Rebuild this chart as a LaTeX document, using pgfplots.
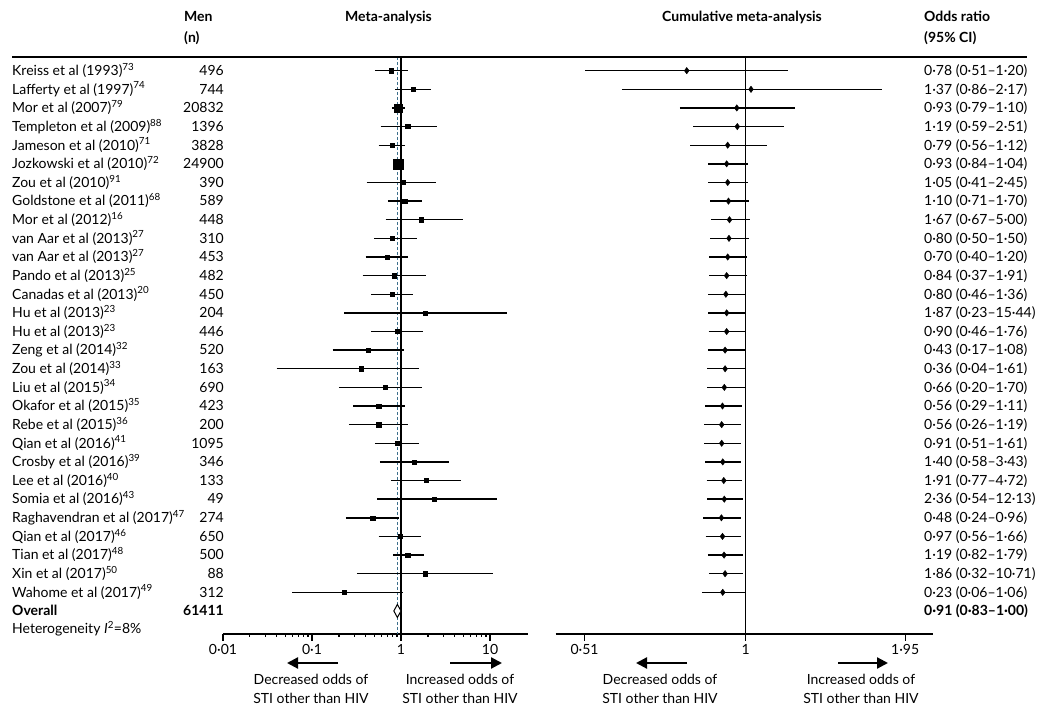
\documentclass[border=0pt]{standalone}
\usepackage{fontspec}
\setmainfont{Lato}
\usepackage{pgfplots}
\pgfplotsset{compat=1.18}
\usepackage{pgfplotstable}
\usetikzlibrary{arrows.meta}
\definecolor{refblue}{HTML}{3D6F8C}

% individual studies: row, odds ratio, CI
\pgfplotstableread{
row or lo hi
1 0.78 0.51 1.20
2 1.37 0.86 2.17
4 1.19 0.59 2.51
5 0.79 0.56 1.12
7 1.05 0.41 2.45
8 1.10 0.71 1.70
9 1.67 0.67 5.00
10 0.80 0.50 1.50
11 0.70 0.40 1.20
12 0.84 0.37 1.91
13 0.80 0.46 1.36
14 1.87 0.23 15.44
15 0.90 0.46 1.76
16 0.43 0.17 1.08
17 0.36 0.04 1.61
18 0.66 0.20 1.70
19 0.56 0.29 1.11
20 0.56 0.26 1.19
21 0.91 0.51 1.61
22 1.40 0.58 3.43
23 1.91 0.77 4.72
24 2.36 0.54 12.13
25 0.48 0.24 0.96
26 0.97 0.56 1.66
27 1.19 0.82 1.79
28 1.86 0.32 10.71
29 0.23 0.06 1.06
}\meta
\pgfplotstableread{
row or lo hi
3 0.93 0.79 1.10
}\metaB
\pgfplotstableread{
row or lo hi
6 0.93 0.84 1.04
}\metaC

% cumulative estimates
\pgfplotstableread{
row c lo hi
1 0.782 0.511 1.196
2 1.023 0.596 1.772
3 0.964 0.760 1.230
4 0.966 0.804 1.175
5 0.928 0.793 1.093
6 0.924 0.856 1.009
7 0.928 0.856 1.012
8 0.931 0.862 1.015
9 0.935 0.866 1.019
10 0.933 0.862 1.015
11 0.928 0.860 1.005
12 0.924 0.860 1.005
13 0.921 0.856 1.002
14 0.924 0.856 1.002
15 0.924 0.857 1.002
16 0.918 0.854 1.000
17 0.918 0.852 0.999
18 0.915 0.852 0.999
19 0.908 0.845 0.984
20 0.905 0.842 0.980
21 0.905 0.842 0.980
22 0.909 0.845 0.982
23 0.913 0.850 0.987
24 0.915 0.852 0.988
25 0.904 0.838 0.983
26 0.908 0.846 0.980
27 0.914 0.854 0.991
28 0.918 0.858 0.991
29 0.909 0.833 0.999
}\cum

\begin{document}
\begin{tikzpicture}[font=\fontsize{14}{16}\selectfont]
\path[use as bounding box] (0pt,0pt) rectangle (1050pt,720pt);

% ---------- left: meta-analysis ----------
\begin{axis}[at={(223pt,86pt)}, anchor=south west, scale only axis,
  width=305pt, height=577pt,
  xmode=log, xmin=0.01, xmax=26.7, ymin=-31.237, ymax=-0.265,
  axis x line*=bottom, axis y line=none,
  axis line style={line width=1.4pt},
  xtick={0.01,0.1,1,10}, xticklabels={0·01,0·1,1,10},
  minor xtick={}, xtick align=outside, major tick length=7pt,
  tick style={line width=1.4pt,black},
  clip=false, unbounded coords=jump]
\draw[line width=1.4pt] (axis cs:1,-0.265) -- (axis cs:1,-31.237);
\draw[refblue, line width=1pt, dash pattern=on 3pt off 2pt] (axis cs:0.91,-0.265) -- (axis cs:0.91,-31.237);
\addplot[black, line width=1.4pt] coordinates {
(0.51,-1) (1.20,-1) (nan,nan)
(0.86,-2) (2.17,-2) (nan,nan)
(0.79,-3) (1.10,-3) (nan,nan)
(0.59,-4) (2.51,-4) (nan,nan)
(0.56,-5) (1.12,-5) (nan,nan)
(0.84,-6) (1.04,-6) (nan,nan)
(0.41,-7) (2.45,-7) (nan,nan)
(0.71,-8) (1.70,-8) (nan,nan)
(0.67,-9) (5.00,-9) (nan,nan)
(0.50,-10) (1.50,-10) (nan,nan)
(0.40,-11) (1.20,-11) (nan,nan)
(0.37,-12) (1.91,-12) (nan,nan)
(0.46,-13) (1.36,-13) (nan,nan)
(0.23,-14) (15.44,-14) (nan,nan)
(0.46,-15) (1.76,-15) (nan,nan)
(0.17,-16) (1.08,-16) (nan,nan)
(0.04,-17) (1.61,-17) (nan,nan)
(0.20,-18) (1.70,-18) (nan,nan)
(0.29,-19) (1.11,-19) (nan,nan)
(0.26,-20) (1.19,-20) (nan,nan)
(0.51,-21) (1.61,-21) (nan,nan)
(0.58,-22) (3.43,-22) (nan,nan)
(0.77,-23) (4.72,-23) (nan,nan)
(0.54,-24) (12.13,-24) (nan,nan)
(0.24,-25) (0.96,-25) (nan,nan)
(0.56,-26) (1.66,-26) (nan,nan)
(0.82,-27) (1.79,-27) (nan,nan)
(0.32,-28) (10.71,-28) (nan,nan)
(0.06,-29) (1.06,-29)
};
\addplot[only marks, mark=square*, mark size=2.1pt, black]
  table[x=or, y expr=-\thisrow{row}] {\meta};
\addplot[only marks, mark=square*, mark size=3.8pt, black]
  table[x=or, y expr=-\thisrow{row}] {\metaB};
\addplot[only marks, mark=square*, mark size=5pt, black]
  table[x=or, y expr=-\thisrow{row}] {\metaC};
\addplot[fill=white, draw=black, line width=1pt] coordinates
  {(0.83,-30) (0.91,-29.65) (1.00,-30) (0.91,-30.35) (0.83,-30)};
\end{axis}

% ---------- right: cumulative meta-analysis ----------
\begin{axis}[at={(555.7pt,86pt)}, anchor=south west, scale only axis,
  width=377.6pt, height=577pt,
  xmode=log, xmin=0.452, xmax=2.193, ymin=-31.237, ymax=-0.265,
  axis x line*=bottom, axis y line=none,
  axis line style={line width=1.4pt},
  xtick={0.51,1,1.95}, xticklabels={0·51,1,1·95},
  minor xtick={}, xtick align=outside, major tick length=7pt,
  tick style={line width=1.4pt,black},
  clip=false, unbounded coords=jump]
\draw[line width=1.4pt] (axis cs:1,-0.265) -- (axis cs:1,-31.237);
\addplot[black, line width=1.4pt] coordinates {
(0.511,-1) (1.196,-1) (nan,nan)
(0.596,-2) (1.772,-2) (nan,nan)
(0.760,-3) (1.230,-3) (nan,nan)
(0.804,-4) (1.175,-4) (nan,nan)
(0.793,-5) (1.093,-5) (nan,nan)
(0.856,-6) (1.009,-6) (nan,nan)
(0.856,-7) (1.012,-7) (nan,nan)
(0.862,-8) (1.015,-8) (nan,nan)
(0.866,-9) (1.019,-9) (nan,nan)
(0.862,-10) (1.015,-10) (nan,nan)
(0.860,-11) (1.005,-11) (nan,nan)
(0.860,-12) (1.005,-12) (nan,nan)
(0.856,-13) (1.002,-13) (nan,nan)
(0.856,-14) (1.002,-14) (nan,nan)
(0.857,-15) (1.002,-15) (nan,nan)
(0.854,-16) (1.000,-16) (nan,nan)
(0.852,-17) (0.999,-17) (nan,nan)
(0.852,-18) (0.999,-18) (nan,nan)
(0.845,-19) (0.984,-19) (nan,nan)
(0.842,-20) (0.980,-20) (nan,nan)
(0.842,-21) (0.980,-21) (nan,nan)
(0.845,-22) (0.982,-22) (nan,nan)
(0.850,-23) (0.987,-23) (nan,nan)
(0.852,-24) (0.988,-24) (nan,nan)
(0.838,-25) (0.983,-25) (nan,nan)
(0.846,-26) (0.980,-26) (nan,nan)
(0.854,-27) (0.991,-27) (nan,nan)
(0.858,-28) (0.991,-28) (nan,nan)
(0.833,-29) (0.999,-29)
};
\addplot[only marks, mark=diamond*, mark size=3.2pt, black]
  table[x=c, y expr=-\thisrow{row}] {\cum};
\end{axis}

% ---------- top rule and headers ----------
\draw[line width=1.6pt] (12pt,663pt) -- (1027pt,663pt);
\begin{scope}[every node/.style={inner sep=0pt, font=\fontsize{14}{16}\selectfont\bfseries}]
\node[anchor=base west] at (184pt,698pt) {Men};
\node[anchor=base west] at (184pt,677pt) {(n)};
\node[anchor=base] at (388.5pt,698pt) {Meta-analysis};
\node[anchor=base] at (742pt,698pt) {Cumulative meta-analysis};
\node[anchor=base west] at (924pt,698pt) {Odds ratio};
\node[anchor=base west] at (924pt,677pt) {(95\% CI)};
\end{scope}

% ---------- row labels ----------
\foreach \i/\name/\n/\ci in {
1/Kreiss et al (1993)\textsuperscript{73}/496/0·78 (0·51–1·20),
2/Lafferty et al (1997)\textsuperscript{74}/744/1·37 (0·86–2·17),
3/Mor et al (2007)\textsuperscript{79}/20832/0·93 (0·79–1·10),
4/Templeton et al (2009)\textsuperscript{88}/1396/1·19 (0·59–2·51),
5/Jameson et al (2010)\textsuperscript{71}/3828/0·79 (0·56–1·12),
6/Jozkowski et al (2010)\textsuperscript{72}/24900/0·93 (0·84–1·04),
7/Zou et al (2010)\textsuperscript{91}/390/1·05 (0·41–2·45),
8/Goldstone et al (2011)\textsuperscript{68}/589/1·10 (0·71–1·70),
9/Mor et al (2012)\textsuperscript{16}/448/1·67 (0·67–5·00),
10/van Aar et al (2013)\textsuperscript{27}/310/0·80 (0·50–1·50),
11/van Aar et al (2013)\textsuperscript{27}/453/0·70 (0·40–1·20),
12/Pando et al (2013)\textsuperscript{25}/482/0·84 (0·37–1·91),
13/Canadas et al (2013)\textsuperscript{20}/450/0·80 (0·46–1·36),
14/Hu et al (2013)\textsuperscript{23}/204/1·87 (0·23–15·44),
15/Hu et al (2013)\textsuperscript{23}/446/0·90 (0·46–1·76),
16/Zeng et al (2014)\textsuperscript{32}/520/0·43 (0·17–1·08),
17/Zou et al (2014)\textsuperscript{33}/163/0·36 (0·04–1·61),
18/Liu et al (2015)\textsuperscript{34}/690/0·66 (0·20–1·70),
19/Okafor et al (2015)\textsuperscript{35}/423/0·56 (0·29–1·11),
20/Rebe et al (2015)\textsuperscript{36}/200/0·56 (0·26–1·19),
21/Qian et al (2016)\textsuperscript{41}/1095/0·91 (0·51–1·61),
22/Crosby et al (2016)\textsuperscript{39}/346/1·40 (0·58–3·43),
23/Lee et al (2016)\textsuperscript{40}/133/1·91 (0·77–4·72),
24/Somia et al (2016)\textsuperscript{43}/49/2·36 (0·54–12·13),
25/Raghavendran et al (2017)\textsuperscript{47}/274/0·48 (0·24–0·96),
26/Qian et al (2017)\textsuperscript{46}/650/0·97 (0·56–1·66),
27/Tian et al (2017)\textsuperscript{48}/500/1·19 (0·82–1·79),
28/Xin et al (2017)\textsuperscript{50}/88/1·86 (0·32–10·71),
29/Wahome et al (2017)\textsuperscript{49}/312/0·23 (0·06–1·06),
30/\bfseries Overall/\bfseries 61411/\bfseries 0·91 (0·83–1·00)}{
  \pgfmathsetmacro{\yy}{720-(70.7+(\i-1)*18.63)-4.8}
  \node[anchor=base west, inner sep=0pt] at (12pt,\yy pt) {\name};
  \node[anchor=base east, inner sep=0pt] at (224pt,\yy pt) {\n};
  \node[anchor=base west, inner sep=0pt] at (924pt,\yy pt) {\ci};
}
\node[anchor=base west, inner sep=0pt] at (12pt,86.3pt) {Heterogeneity \textit{I}\textsuperscript{2}=8\%};

% ---------- direction arrows ----------
\begin{scope}[line width=2.2pt, -{Triangle[length=11pt,width=11pt]}]
\draw (338pt,57pt) -- (287pt,57pt);
\draw (450pt,57pt) -- (502pt,57pt);
\draw (687pt,57pt) -- (636pt,57pt);
\draw (838pt,57pt) -- (888pt,57pt);
\end{scope}
\begin{scope}[every node/.style={inner sep=0pt, anchor=base}]
\node at (311pt,35.5pt) {Decreased odds of};
\node at (311pt,16.5pt) {STI other than HIV};
\node at (460pt,35.5pt) {Increased odds of};
\node at (460pt,16.5pt) {STI other than HIV};
\node at (660pt,35.5pt) {Decreased odds of};
\node at (660pt,16.5pt) {STI other than HIV};
\node at (861pt,35.5pt) {Increased odds of};
\node at (861pt,16.5pt) {STI other than HIV};
\end{scope}
\end{tikzpicture}
\end{document}
